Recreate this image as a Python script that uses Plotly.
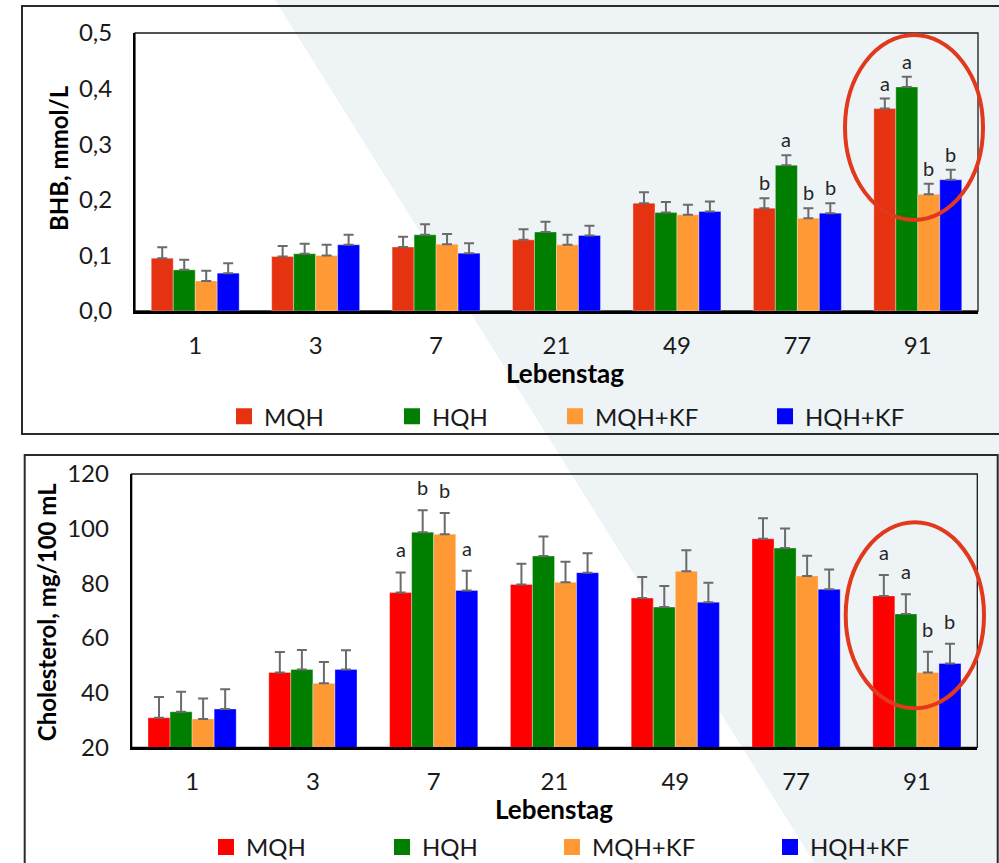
import plotly.graph_objects as go

# ---- data -----------------------------------------------------------------
days = ["1", "3", "7", "21", "49", "77", "91"]
groups = ["MQH", "HQH", "MQH+KF", "HQH+KF"]

bhb_mqh = [0.095, 0.098, 0.115, 0.128, 0.194, 0.185, 0.364]
bhb_hqh = [0.074, 0.103, 0.137, 0.142, 0.177, 0.262, 0.403]
bhb_mqh_kf = [0.054, 0.100, 0.120, 0.119, 0.173, 0.167, 0.210]
bhb_hqh_kf = [0.068, 0.119, 0.104, 0.136, 0.179, 0.176, 0.236]

bhb_err_mqh = [0.0195, 0.019, 0.0185, 0.019, 0.0195, 0.018, 0.018]
bhb_err_hqh = [0.018, 0.018, 0.019, 0.0185, 0.019, 0.018, 0.0185]
bhb_err_mqh_kf = [0.0185, 0.019, 0.0185, 0.018, 0.018, 0.018, 0.019]
bhb_err_hqh_kf = [0.018, 0.018, 0.018, 0.0175, 0.018, 0.018, 0.018]

chol_mqh = [30.8, 47.4, 76.6, 79.6, 74.6, 96.3, 75.4]
chol_hqh = [33.0, 48.5, 98.7, 90.0, 71.3, 92.9, 68.8]
chol_mqh_kf = [30.4, 43.4, 98.0, 80.4, 84.4, 82.7, 47.4]
chol_hqh_kf = [34.0, 48.5, 77.4, 83.9, 73.1, 77.8, 50.7]

chol_err_mqh = [7.6, 7.5, 7.4, 7.6, 7.7, 7.5, 7.6]
chol_err_hqh = [7.3, 7.1, 8.0, 7.1, 7.7, 7.2, 7.2]
chol_err_mqh_kf = [7.5, 7.8, 7.7, 7.5, 7.7, 7.4, 7.6]
chol_err_hqh_kf = [7.2, 7.0, 7.2, 7.1, 7.1, 7.3, 7.2]

# significance letters per day (order: MQH, HQH, MQH+KF, HQH+KF)
bhb_letters = {"77": ["b", "a", "b", "b"], "91": ["a", "a", "b", "b"]}
chol_letters = {"7": ["a", "b", "b", "a"], "91": ["a", "a", "b", "b"]}

bhb_ticks = [0.0, 0.1, 0.2, 0.3, 0.4, 0.5]
chol_ticks = [20, 40, 60, 80, 100, 120]

# ---- styling --------------------------------------------------------------
W, H = 999, 863
FONT = "Lato"
TEXT = "#1a1a1a"
colors_top = ["#e53312", "#007f00", "#ff9933", "#0000ff"]
colors_bot = ["#ff0000", "#007f00", "#ff9933", "#0000ff"]
BARGAP = 0.27


def px(x):
    return x / W


def py(y):
    return 1 - y / H


fig = go.Figure()

top_means = [bhb_mqh, bhb_hqh, bhb_mqh_kf, bhb_hqh_kf]
top_errs = [bhb_err_mqh, bhb_err_hqh, bhb_err_mqh_kf, bhb_err_hqh_kf]
bot_means = [chol_mqh, chol_hqh, chol_mqh_kf, chol_hqh_kf]
bot_errs = [chol_err_mqh, chol_err_hqh, chol_err_mqh_kf, chol_err_hqh_kf]

err_style = dict(type="data", symmetric=False, color="#6b6b6b", thickness=2, width=5)

for j, g in enumerate(groups):
    fig.add_trace(go.Bar(
        x=days, y=top_means[j], name=g, xaxis="x", yaxis="y",
        marker=dict(color=colors_top[j], line=dict(width=0.6, color="rgba(255,255,255,0.55)")),
        error_y=dict(array=top_errs[j], arrayminus=[0] * len(days), **err_style),
        showlegend=False,
    ))
for j, g in enumerate(groups):
    fig.add_trace(go.Bar(
        x=days, y=bot_means[j], name=g, xaxis="x2", yaxis="y2",
        marker=dict(color=colors_bot[j], line=dict(width=0.6, color="rgba(255,255,255,0.55)")),
        error_y=dict(array=bot_errs[j], arrayminus=[0] * len(days), **err_style),
        showlegend=False,
    ))

# legend entries: one legend per entry so every key sits where it belongs
top_legend_x = [239, 407, 570, 780]
bot_legend_x = [221, 397, 567, 785]
legend_layout = {}
for j, g in enumerate(groups):
    for k, (cols, xs, yc) in enumerate([(colors_top, top_legend_x, 416.7),
                                         (colors_bot, bot_legend_x, 847.3)]):
        idx = j + 1 + 4 * k
        lname = "legend" if idx == 1 else f"legend{idx}"
        fig.add_trace(go.Scatter(
            x=[None], y=[None], mode="markers", name=g,
            xaxis="x" if k == 0 else "x2", yaxis="y" if k == 0 else "y2",
            marker=dict(symbol="square", size=16, color=cols[j]),
            legend=lname, showlegend=True,
        ))
        legend_layout[lname] = dict(
            x=px(xs[j] - 15), y=py(yc), xanchor="left", yanchor="middle",
            orientation="h", bgcolor="rgba(0,0,0,0)", borderwidth=0,
            font=dict(family=FONT, size=24, color=TEXT), itemsizing="trace",
        )

# ---- axes -----------------------------------------------------------------
tickfont = dict(family=FONT, size=24, color=TEXT)
xcommon = dict(type="category", categoryorder="array", categoryarray=days,
               showline=True, linecolor="#000000", linewidth=2.5, ticks="",
               showgrid=False, zeroline=False, tickfont=tickfont,
               ticklabelstandoff=11, fixedrange=True)
ycommon = dict(showline=True, linecolor="#000000", linewidth=2, ticks="",
               showgrid=False, zeroline=False, tickfont=tickfont,
               ticklabelstandoff=16, fixedrange=True)

fig.update_layout(
    xaxis=dict(domain=[px(135), px(978)], anchor="y", **xcommon),
    yaxis=dict(domain=[py(311), py(33)], anchor="x", range=[0, 0.5],
               tickvals=bhb_ticks, tickformat=".1f", **ycommon),
    xaxis2=dict(domain=[px(131.7), px(977.3)], anchor="y2", **xcommon),
    yaxis2=dict(domain=[py(747.3), py(474)], anchor="x2", range=[20, 120],
                tickvals=chol_ticks, tickformat="d", **ycommon),
)

# ---- shapes: backdrop, panel frames, plot frames, highlight ellipses -----
shapes = [
    dict(type="path", xref="paper", yref="paper", layer="below",
         path=f"M {px(275)},{py(0)} L {px(1000)},{py(0)} L {px(1000)},{py(864)} L {px(815)},{py(864)} Z",
         fillcolor="#eef3f6", line=dict(width=0)),
    dict(type="rect", xref="paper", yref="paper", layer="below",
         x0=px(22), x1=px(1010), y0=py(434), y1=py(6),
         line=dict(color="#2a2a2a", width=2), fillcolor="rgba(0,0,0,0)"),
    dict(type="rect", xref="paper", yref="paper", layer="below",
         x0=px(24.7), x1=px(997.7), y0=py(880), y1=py(455),
         line=dict(color="#2a2a2a", width=2), fillcolor="rgba(0,0,0,0)"),
    dict(type="rect", xref="x domain", yref="y domain", layer="below",
         x0=0, x1=1, y0=0, y1=1, line=dict(color="#1a1a1a", width=1.3)),
    dict(type="rect", xref="x2 domain", yref="y2 domain", layer="below",
         x0=0, x1=1, y0=0, y1=1, line=dict(color="#1a1a1a", width=1.3)),
    dict(type="circle", xref="paper", yref="paper", layer="above",
         x0=px(845), x1=px(983), y0=py(220), y1=py(35),
         line=dict(color="#e2391d", width=4)),
    dict(type="circle", xref="paper", yref="paper", layer="above",
         x0=px(845.7), x1=px(984), y0=py(708.3), y1=py(522.3),
         line=dict(color="#e2391d", width=4)),
]

# ---- annotations: titles and significance letters -------------------------
title_font = dict(family=FONT, size=24, color="#000000")
xtitle_font = dict(family=FONT, size=26, color="#000000")
annotations = [
    dict(text="<b>BHB, mmol/L</b>", xref="paper", yref="paper", x=px(58), y=py(158),
         textangle=-90, showarrow=False, font=title_font, xanchor="center", yanchor="middle"),
    dict(text="<b>Cholesterol, mg/100 mL</b>", xref="paper", yref="paper", x=px(46.7), y=py(612.5),
         textangle=-90, showarrow=False, font=title_font, xanchor="center", yanchor="middle"),
    dict(text="<b>Lebenstag</b>", xref="paper", yref="paper", x=px(565), y=py(373),
         showarrow=False, font=xtitle_font, xanchor="center", yanchor="middle"),
    dict(text="<b>Lebenstag</b>", xref="paper", yref="paper", x=px(554), y=py(808.5),
         showarrow=False, font=xtitle_font, xanchor="center", yanchor="middle"),
]

bar_w = (1 - BARGAP) / len(groups)
letter_font = dict(family=FONT, size=20, color="#262626")
for letters, means, errs, xr, yr, shift in [
    (bhb_letters, top_means, top_errs, "x", "y", 16),
    (chol_letters, bot_means, bot_errs, "x2", "y2", 23),
]:
    for day, labs in letters.items():
        i = days.index(day)
        for j, lab in enumerate(labs):
            annotations.append(dict(
                text=lab, xref=xr, yref=yr,
                x=i + (j - (len(groups) - 1) / 2) * bar_w,
                y=means[j][i] + errs[j][i], yshift=shift,
                showarrow=False, font=letter_font, xanchor="center", yanchor="middle",
            ))

fig.update_layout(
    width=W, height=H, autosize=False,
    margin=dict(l=0, r=0, t=0, b=0, autoexpand=False),
    paper_bgcolor="#ffffff", plot_bgcolor="rgba(0,0,0,0)",
    barmode="group", bargap=BARGAP, bargroupgap=0,
    separators=", ",
    font=dict(family=FONT, color=TEXT),
    shapes=shapes, annotations=annotations,
    **legend_layout,
)

fig.write_html("out.html")
